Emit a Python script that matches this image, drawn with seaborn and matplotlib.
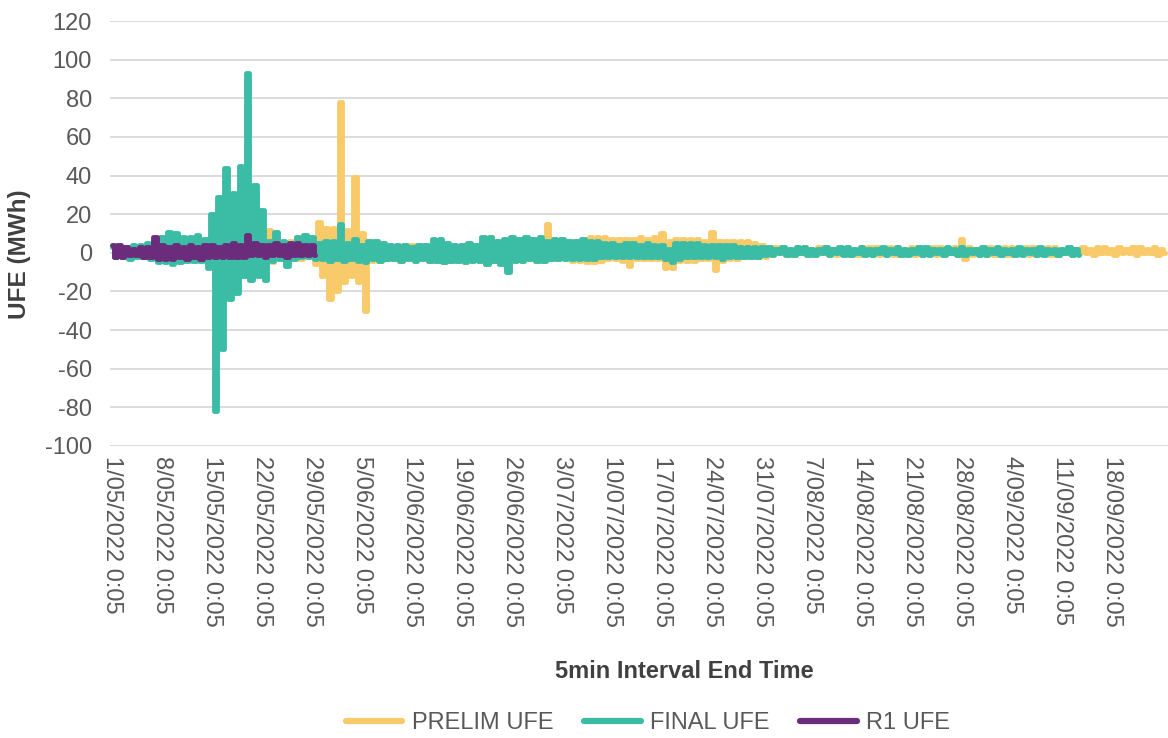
import matplotlib
matplotlib.use("Agg")
import matplotlib.pyplot as plt
from matplotlib.lines import Line2D
import pandas as pd
import seaborn as sns

# ---------------- data (daily high / low readings, MWh) ----------------
START = "2022-05-01 00:05"
series_names = ["PRELIM UFE", "FINAL UFE", "R1 UFE"]
series_colors = ["#F9CA6A", "#3BBDA5", "#6B2C7C"]

prelim_hi = [3, 3, 3, 3, 3, 4, 4, 6, 8, 8, 7, 7, 7, 6, 6, 8, 10, 8, 8, 9, 10, 10,
             12, 8, 5, 6, 8, 9, 7, 16, 13, 13, 78, 12, 39, 10, 6,
             6, 5, 4, 4, 4, 4, 4, 4, 6, 6, 5, 4, 4, 5, 4, 8, 8, 6, 7, 8, 7, 8, 7, 8,
             15, 7, 7, 6, 6, 7, 8, 8, 8, 7, 7, 7, 7, 8, 7, 8, 10, 6, 7, 7, 7, 7, 6, 11, 6, 6, 6, 6, 6, 5, 4,
             3, 3, 3, 2, 3, 3, 2, 3, 3, 2, 3, 3, 2, 3, 3, 3, 2, 3, 3, 2, 3, 3, 2, 3, 3, 2, 3,
             7,
             3, 2, 3, 3, 2, 3, 3, 2, 3, 3, 2, 3, 3, 2, 3, 2,
             3, 2, 3, 3, 2, 3, 2, 3, 3, 2, 3, 2]
prelim_lo = [-2, -2, -2, -2, -2, -2, -4, -4, -5, -4, -3, -3, -3, -6, -10, -10, -10, -10, -8, -8, -8, -8,
             -5, -3, -2, -2, -3, -2, -6, -12, -24, -20, -15, -12, -15, -30, -4,
             -4, -3, -3, -4, -3, -4, -3, -4, -4, -5, -4, -4, -5, -4, -4, -6, -4, -6, -9, -4, -4, -3, -4, -4,
             -3, -3, -3, -4, -4, -5, -5, -4, -3, -3, -4, -7, -3, -3, -3, -3, -8, -8, -4, -4, -4, -3, -3, -9, -4, -3, -3, -2, -2, -2, -2,
             -1, 0, -1, -1, 0, -1, -1, 0, -1, -1, 0, -1, -1, 0, -1, -1, 0, -1, -1, 0, -1, -1, 0, -1, -1, 0, -1,
             -3,
             -1, 0, -1, -1, 0, -1, -1, 0, -1, -1, 0, -1, -1, 0, -1, 0,
             0, -1, 0, 0, -1, 0, 0, -1, 0, 0, -1, 0]

final_hi = [3, 3, 3, 4, 4, 5, 5, 8, 11, 10, 8, 8, 9, 7,
            20, 29, 44, 31, 45, 93, 35, 22,
            6, 11, 6, 5, 8, 9, 8, 5, 6, 6, 15, 5, 7, 4, 6,
            6, 5, 4, 4, 4, 3, 4, 4, 7, 7, 5, 4, 4, 5, 4, 8, 8, 6, 7, 8, 7, 8, 7, 8,
            6, 7, 7, 6, 6, 7, 6, 6, 5, 5, 4, 5, 5, 4, 5, 4, 4, 2, 5, 5, 5, 5, 4, 4, 4, 4, 4, 3, 3, 3, 3,
            3, 2, 3, 2, 3, 3, 2, 2, 3, 2, 3, 3, 2, 3, 2, 2, 3, 2, 3, 2, 2, 3, 3, 2,
            2, 3, 2, 3, 2, 2, 3, 2, 3, 2, 2, 3, 2, 2, 3, 2, 2, 2, 3, 2]
final_lo = [-2, -2, -3, -2, -2, -3, -5, -5, -6, -5, -4, -4, -4, -8,
            -82, -50, -24, -21, -12, -14, -12, -14,
            -4, -3, -7, -3, -2, -2, -3, -3, -4, -3, -4, -3, -4, -5, -3,
            -4, -3, -3, -4, -3, -4, -3, -4, -4, -5, -4, -4, -5, -4, -4, -6, -4, -6, -10, -4, -4, -3, -4, -4,
            -3, -3, -3, -3, -3, -3, -3, -2, -2, -2, -2, -2, -2, -2, -2, -2, -3, -5, -3, -2, -2, -2, -2, -2, -3, -2, -2, -2, -2, -2, -1,
            -1, 0, -1, -1, 0, -1, -1, 0, -1, 0, -1, -1, 0, -1, -1, 0, -1, 0, -1, -1, 0, -1,
            -1, 0, -1, 0, -1, -1, 0, -1, -1, 0, -1, 0, -1, -1, 0, -1, -1, 0, -1, 0, -1, -1]

r1_hi = [4, 4, 3, 2, 3, 3, 8, 4, 3, 4, 3, 4, 3, 4, 4, 3, 4, 5, 4, 9, 5, 4, 4, 5, 4, 5, 5, 4, 4]
r1_lo = [-2, -2, -1, -1, -2, -2, -3, -3, -3, -2, -3, -2, -3, -2, -2, -2, -2, -2, -2, -1, -1, -2, -1, -1, -2, -1, -1, -1, -1]

tick_dates = pd.date_range(START, periods=21, freq="7D")
tick_labels = [f"{t.day}/{t.month:02d}/{t.year} 0:05" for t in tick_dates]

# ---------------- long-format frame ----------------
t0 = pd.Timestamp(START)
rows = []
for name, hi, lo in zip(series_names, [prelim_hi, final_hi, r1_hi], [prelim_lo, final_lo, r1_lo]):
    for d, (h, l) in enumerate(zip(hi, lo)):
        rows.append({"time": t0 + pd.Timedelta(days=d), "value": h, "series": name})
        rows.append({"time": t0 + pd.Timedelta(days=d, hours=12), "value": l, "series": name})
df = pd.DataFrame(rows)

# ---------------- plot ----------------
sns.set_theme(style="white")
plt.rcParams["font.family"] = ["Liberation Sans", "DejaVu Sans"]
plt.rcParams["axes.unicode_minus"] = False

W, H = 1168, 738
fig = plt.figure(figsize=(W / 100, H / 100), dpi=100)
ax = fig.add_axes([110 / W, 1 - 446 / H, (W - 110) / W, 425 / H])

sns.lineplot(data=df, x="time", y="value", hue="series", hue_order=series_names,
             palette=series_colors, estimator=None, sort=False, linewidth=3.5,
             drawstyle="steps-mid", legend=False, ax=ax)

ax.set_ylim(-100, 120)
ax.set_yticks(range(-100, 121, 20))
ax.set_xlim(t0 - pd.Timedelta(hours=6.7), t0 + pd.Timedelta(days=147.9))
ax.set_xticks(tick_dates)
ax.set_xticklabels(tick_labels, rotation=-90, ha="center", va="top")

ax.yaxis.grid(True, color="#D9D9D9", linewidth=1.3)
ax.xaxis.grid(False)
ax.set_axisbelow(True)
for s in ax.spines.values():
    s.set_visible(False)
ax.tick_params(axis="y", length=0, pad=13, labelsize=17, labelcolor="#595959")
ax.tick_params(axis="x", length=0, pad=7, labelsize=17, labelcolor="#595959")
ax.set_xlabel("")
ax.set_ylabel("")

fig.text(684 / W, 1 - 672 / H, "5min Interval End Time", ha="center", va="center",
         fontsize=17, fontweight="bold", color="#404040")
fig.text(20 / W, 1 - 254 / H, "UFE (MWh)", ha="center", va="center", rotation=90,
         fontsize=17.5, fontweight="bold", color="#404040")

handles = [Line2D([0], [0], color=c, lw=4.5) for c in series_colors]
fig.legend(handles, series_names, loc="center", bbox_to_anchor=(648 / W, 1 - 723 / H),
           ncol=3, frameon=False, fontsize=17, labelcolor="#595959",
           handlelength=2.4, handletextpad=0.4, columnspacing=1.3)

fig.savefig("out.png", dpi=100)
